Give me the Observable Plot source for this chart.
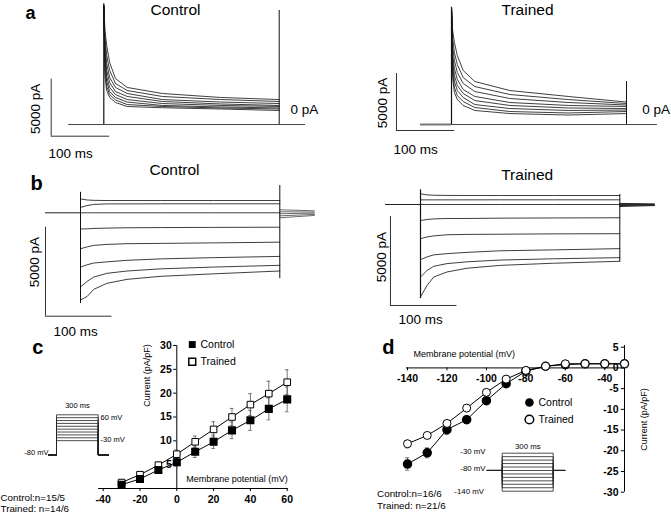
<!DOCTYPE html>
<html><head><meta charset="utf-8">
<script src="https://cdn.jsdelivr.net/npm/d3@7"></script>
<script src="https://cdn.jsdelivr.net/npm/@observablehq/plot@0.6"></script>
<style>
html,body{margin:0;padding:0;background:#fff;}
#root{position:relative;width:671px;height:514px;overflow:hidden;background:#fff;}
#root svg{position:absolute;left:0;top:0;}
</style></head><body><div id="root"></div>
<script>
// ================= DATA =================
// Panel a: outward current traces (pA) sampled at these times (ms) during a 300 ms step
const aTimes = [0, 2, 5, 10, 20, 40, 100, 200, 300];
const aControl = [
  [10400, 8240, 6930, 5440, 4030, 3250, 2720, 2370, 2190],
  [10400, 7540, 6050, 4740, 3600, 2980, 2460, 2190, 2020],
  [10400, 6930, 5350, 4120, 3250, 2720, 2190, 1970, 1840],
  [10400, 6310, 4740, 3680, 2890, 2460, 2020, 1800, 1670],
  [10400, 5790, 4210, 3250, 2630, 2190, 1840, 1670, 1580],
  [10400, 5260, 3770, 2890, 2370, 1970, 1670, 1540, 1450],
  [10400, 4740, 3330, 2630, 2150, 1750, 1580, 1450, 1360],
  [10400, 4210, 2980, 2370, 1930, 1580, 1470, 1360, 1230]
];
const aTrained = [
  [10260, 8240, 7190, 6050, 4740, 3770, 2980, 2460, 1970],
  [10260, 7540, 6310, 5260, 4120, 3330, 2630, 2190, 1840],
  [10260, 6840, 5610, 4560, 3600, 2890, 2280, 1930, 1710],
  [10260, 6140, 4910, 3950, 3070, 2460, 1930, 1670, 1580],
  [10260, 5610, 4300, 3420, 2720, 2100, 1670, 1450, 1400],
  [10260, 5090, 3770, 2980, 2370, 1750, 1400, 1230, 1270],
  [10260, 4560, 3240, 2540, 2020, 1490, 1140, 1010, 1140],
  [10260, 4030, 2810, 2190, 1670, 1230, 960, 830, 960]
];
const aControlOnset = 10600, aControlOffset = 10000;
const aTrainedOnset = 10290, aTrainedOffset = 3770;

// Panel b: inward current traces (pA)
const bTimes = [0, 10, 20, 40, 70, 120, 200, 300];
const bControl = [
  [780, 720, 700, 690, 690, 690, 690, 690],
  [300, 410, 470, 500, 500, 505, 505, 505],
  [0, 0, 0, 0, 0, 0, 0, 0],
  [-910, -900, -880, -860, -840, -830, -820, -810],
  [-2020, -1915, -1830, -1775, -1735, -1720, -1690, -1650],
  [-3050, -2920, -2820, -2755, -2670, -2590, -2520, -2450],
  [-4170, -3850, -3610, -3400, -3270, -3150, -3050, -2950],
  [-4900, -4700, -4300, -3960, -3740, -3570, -3430, -3270]
];
const bTrained = [
  [600, 540, 520, 510, 505, 505, 505, 505],
  [260, 260, 260, 260, 260, 263, 263, 263],
  [0, 0, 0, 0, 0, 0, 0, 0],
  [-900, -840, -810, -785, -785, -767, -756, -745],
  [-1920, -1820, -1765, -1700, -1680, -1670, -1650, -1640],
  [-3100, -2940, -2830, -2760, -2690, -2600, -2550, -2480],
  [-4070, -3700, -3470, -3320, -3220, -3120, -3050, -2985],
  [-5190, -4540, -4070, -3790, -3580, -3420, -3300, -3190]
];
const bControlOnset = [1150, -5100], bControlOffset = [1530, -3700];
const bTrainedOnset = [823, -5282], bTrainedOffset = [560, -3231];
const bTailTimes = [300, 352];
const bControlTailStart = [170, 60, -50, -170, -280];
const bControlTailEnd = [110, 40, -20, -90, -150];
const bTrainedTailStart = [60, 20, -20, -60, -110];
const bTrainedTailEnd = [30, 10, -10, -30, -60];

// Panel c: I-V relation (pA/pF)
const cVoltages = [-30, -20, -10, 0, 10, 20, 30, 40, 50, 60];
const cControl = [0.8, 2.0, 3.9, 5.5, 7.7, 9.8, 12.2, 14.3, 16.7, 18.7];
const cTrained = [1.25, 2.9, 4.9, 7.2, 9.8, 12.4, 15.0, 17.6, 19.9, 22.3];
const cControlErr = [0.3, 0.4, 0.6, 0.8, 1.2, 1.4, 1.75, 2.1, 2.3, 2.6];
const cTrainedErr = [0.3, 0.4, 0.6, 0.9, 1.2, 1.6, 1.8, 2.3, 2.6, 2.6];
const cXTicks = [-40, -20, 0, 20, 40, 60];
const cYTicks = [5, 10, 15, 20, 25, 30];
const cStepLevels = [-30, -20, -10, 0, 10, 20, 30, 40, 50, 60];

// Panel d: I-V relation (pA/pF)
const dVoltages = [-140, -130, -120, -110, -100, -90, -80, -70, -60, -50, -40, -30];
const dControl = [-23.2, -20.5, -14.9, -12.5, -7.9, -3.8, -0.8, 0.4, 0.8, 1.0, 1.0, 1.0];
const dTrained = [-18.3, -16.3, -13.4, -9.7, -5.9, -2.7, -0.6, 0.4, 1.0, 1.0, 1.0, 1.0];
const dControlErr = [1.5, 1.2, 1.2, 0.8, 0.4, 0.3, 0.2, 0.1, 0.1, 0.1, 0.1, 0.1];
const dTrainedErr = [1.0, 0.5, 0.3, 0.3, 0.3, 0.2, 0.2, 0.1, 0.1, 0.1, 0.1, 0.1];
const dXTicks = [-140, -120, -100, -80, -60, -40];
const dYTicks = [5, 0, -5, -10, -15, -20, -25, -30];
const dStepLevels = [-140, -130, -120, -110, -100, -90, -80, -70, -60, -50, -40, -30];

const holding = -80, pulse = 300;
const barPA = 5000, barMs = 100;

// ================= DRAWING =================
const FONT = "Arial, 'Liberation Sans', Helvetica, sans-serif";
const root = document.getElementById("root");
const INK = "#111";

function panel(xDomain, xRange, yDomain, yRange, marks) {
  const svg = Plot.plot({
    width: 671, height: 514, margin: 0,
    style: {background: "transparent", fontFamily: FONT, overflow: "visible", color: INK},
    x: {type: "linear", domain: xDomain, range: xRange, axis: null},
    y: {type: "linear", domain: yDomain, range: yRange, axis: null},
    marks
  });
  root.appendChild(svg);
}
function T(text, x, y, o = {}) {
  return Plot.text([{text, x, y}], {x: "x", y: "y", text: "text", fill: "#000", fontSize: 10, ...o});
}
function traceRows(times, traces) {
  return traces.flatMap((tr, k) => tr.map((v, i) => ({k, t: times[i], v})));
}
function tailRows(times, s, e) {
  return s.flatMap((v, k) => [{k, t: times[0], v}, {k, t: times[1], v: e[k]}]);
}
function stepRows(levels, hold, pre, post) {
  return levels.flatMap((V, k) => [
    {k, t: pre, V: hold}, {k, t: 0, V: hold}, {k, t: 0, V}, {k, t: pulse, V},
    {k, t: pulse, V: hold}, {k, t: post, V: hold}
  ]);
}
const traceStyle = {x: "t", y: "v", z: "k", stroke: "#1c1c1c", strokeWidth: 0.85};

// ---- Panel a, Control ----
panel([0, 300], [103.3, 278.7], [0, 5000], [124, 67], [
  Plot.ruleY([0], {x1: -60, x2: 345, stroke: "#444", strokeWidth: 1}),
  Plot.line(traceRows(aTimes, aControl), traceStyle),
  Plot.ruleX([0], {y1: 0, y2: aControlOnset, stroke: "#111", strokeWidth: 1.2}),
  Plot.ruleX([pulse], {y1: 0, y2: aControlOffset, stroke: "#111", strokeWidth: 1}),
  Plot.ruleX([-90], {y1: -1026, y2: -1026 + barPA, stroke: "#333"}),
  Plot.ruleY([-1026], {x1: -90, x2: -90 + barMs, stroke: "#333"}),
  T("a", -134, 9800, {fontSize: 18, fontWeight: "bold", textAnchor: "start"}),
  T("Control", 122.6, 10084, {fontSize: 15.5}),
  T("0 pA", 319.3, 1316, {fontSize: 13.5, textAnchor: "start"}),
  T("5000 pA", -116.8, 1377, {fontSize: 13.5, rotate: -90}),
  T("100 ms", -94.6, -2518, {fontSize: 13.5, textAnchor: "start"})
]);

// ---- Panel a, Trained ----
panel([0, 300], [451, 626], [0, 5000], [124, 67], [
  Plot.ruleY([0], {x1: -53, x2: 353, stroke: "#444", strokeWidth: 1}),
  Plot.ruleY([0], {x1: -53, x2: 0, stroke: "#777", strokeWidth: 2}),
  Plot.line(traceRows(aTimes, aTrained), traceStyle),
  Plot.ruleX([0], {y1: 0, y2: aTrainedOnset, stroke: "#111", strokeWidth: 1.2}),
  Plot.ruleX([pulse], {y1: 0, y2: aTrainedOffset, stroke: "#111", strokeWidth: 1}),
  Plot.ruleX([-94.3], {y1: -526, y2: -526 + barPA, stroke: "#333"}),
  Plot.ruleY([-526], {x1: -94.3, x2: -94.3 + barMs, stroke: "#333"}),
  T("Trained", 130.3, 10084, {fontSize: 15.5}),
  T("0 pA", 326.9, 1316, {fontSize: 13.5, textAnchor: "start"}),
  T("5000 pA", -118.8, 1886, {fontSize: 13.5, rotate: -90}),
  T("100 ms", -99.4, -2167, {fontSize: 13.5, textAnchor: "start"})
]);

// ---- Panel b, Control ----
panel([0, 300], [80, 279.3], [0, -5000], [212.3, 301.3], [
  Plot.ruleY([0], {x1: -52.7, x2: 0, stroke: "#222", strokeWidth: 1}),
  Plot.line(tailRows(bTailTimes, bControlTailStart, bControlTailEnd), {...traceStyle, stroke: "#444", strokeWidth: 0.8}),
  Plot.line(traceRows(bTimes, bControl), traceStyle),
  Plot.ruleX([0], {y1: bControlOnset[0], y2: bControlOnset[1], stroke: "#111", strokeWidth: 1}),
  Plot.ruleX([pulse], {y1: bControlOffset[0], y2: bControlOffset[1], stroke: "#111", strokeWidth: 1}),
  Plot.ruleX([-52.7], {y1: -809, y2: -809 - barPA, stroke: "#333"}),
  Plot.ruleY([-809 - barPA], {x1: -52.7, x2: -52.7 + barMs, stroke: "#333"}),
  T("b", -75.3, 1651, {fontSize: 20, fontWeight: "bold", textAnchor: "start"}),
  T("Control", 141.5, 2416, {fontSize: 15.5}),
  T("5000 pA", -69.2, -2775, {fontSize: 13.5, rotate: -90}),
  T("100 ms", -40.6, -6652, {fontSize: 13.5, textAnchor: "start"})
]);

// ---- Panel b, Trained ----
panel([0, 300], [420, 619.3], [0, -5000], [204, 293], [
  Plot.ruleY([0], {x1: -52.7, x2: 0, stroke: "#222", strokeWidth: 1.2}),
  Plot.line(tailRows(bTailTimes, bTrainedTailStart, bTrainedTailEnd), {...traceStyle, stroke: "#222", strokeWidth: 1}),
  Plot.line(traceRows(bTimes, bTrained), traceStyle),
  Plot.ruleX([0], {y1: bTrainedOnset[0], y2: bTrainedOnset[1], stroke: "#111", strokeWidth: 1.2}),
  Plot.ruleX([pulse], {y1: bTrainedOffset[0], y2: bTrainedOffset[1], stroke: "#111", strokeWidth: 1}),
  Plot.ruleX([-45.2], {y1: -674, y2: -674 - barPA, stroke: "#333"}),
  Plot.ruleY([-674 - barPA], {x1: -45.2, x2: -45.2 + barMs, stroke: "#333"}),
  T("Trained", 160.6, 1669, {fontSize: 15.5}),
  T("5000 pA", -57.7, -2961, {fontSize: 13.5, rotate: -90}),
  T("100 ms", -33.1, -6444, {fontSize: 13.5, textAnchor: "start"})
]);

// ---- Panel c ----
const cRows = cVoltages.map((v, i) => ({v, c: cControl[i], t: cTrained[i], ce: cControlErr[i], te: cTrainedErr[i]}));
const errStyle = {stroke: "#555", strokeWidth: 0.8};
panel([-40, 60], [102.7, 286.7], [0, 30], [488, 345], [
  Plot.ruleY([0], {x1: -42.5, x2: 60.5, stroke: "#000"}),
  Plot.ruleX(cXTicks, {x: d => d, y1: 0, y2: -0.65, stroke: "#000"}),
  Plot.ruleX([0], {y1: 0, y2: 30, stroke: "#000"}),
  Plot.ruleY(cYTicks, {y: d => d, x1: -1.7, x2: 0, stroke: "#000"}),
  Plot.text(cXTicks, {x: d => d, y: 0, text: d => String(d), dy: 11, fontSize: 10.5, fontWeight: "bold", fill: "#000"}),
  Plot.text(cYTicks, {x: 0, y: d => d, text: d => String(d), dx: -5, textAnchor: "end", fontSize: 10.5, fontWeight: "bold", fill: "#000"}),
  Plot.ruleX(cRows, {x: "v", y1: d => d.t - d.te, y2: d => d.t + d.te, ...errStyle}),
  Plot.ruleY(cRows, {y: d => d.t + d.te, x1: d => d.v - 1, x2: d => d.v + 1, ...errStyle}),
  Plot.ruleY(cRows, {y: d => d.t - d.te, x1: d => d.v - 1, x2: d => d.v + 1, ...errStyle}),
  Plot.ruleX(cRows, {x: "v", y1: d => d.c - d.ce, y2: d => d.c + d.ce, ...errStyle}),
  Plot.ruleY(cRows, {y: d => d.c + d.ce, x1: d => d.v - 1, x2: d => d.v + 1, ...errStyle}),
  Plot.ruleY(cRows, {y: d => d.c - d.ce, x1: d => d.v - 1, x2: d => d.v + 1, ...errStyle}),
  Plot.line(cRows, {x: "v", y: "t", stroke: "#000", strokeWidth: 1}),
  Plot.line(cRows, {x: "v", y: "c", stroke: "#000", strokeWidth: 1}),
  Plot.dot(cRows, {x: "v", y: "t", symbol: "square", r: 3.7, fill: "#fff", stroke: "#000", strokeWidth: 1}),
  Plot.dot(cRows, {x: "v", y: "c", symbol: "square", r: 3.7, fill: "#000", stroke: "#000"}),
  Plot.dot([{x: 8.4, y: 30.2}], {x: "x", y: "y", symbol: "square", r: 3.9, fill: "#000"}),
  Plot.dot([{x: 8.4, y: 26.6}], {x: "x", y: "y", symbol: "square", r: 3.9, fill: "#fff", stroke: "#000"}),
  T("Control", 12.9, 30.2, {fontSize: 10.5, textAnchor: "start"}),
  T("Trained", 12.9, 26.6, {fontSize: 10.5, textAnchor: "start"}),
  T("c", -78.6, 29.6, {fontSize: 20, fontWeight: "bold", textAnchor: "start"}),
  T("Current (pA/pF)", -16.1, 23.7, {fontSize: 9, rotate: -90}),
  T("Membrane potential (mV)", 5.1, 1.87, {fontSize: 9, textAnchor: "start"}),
  T("Control:n=15/5", -95.8, -1.87, {fontSize: 9.8, textAnchor: "start"}),
  T("Trained: n=14/6", -95.8, -4.32, {fontSize: 9.8, textAnchor: "start"})
]);

// ---- Panel c protocol ----
panel([0, 300], [56, 97.7], [-80, 60], [454.5, 414.3], [
  Plot.line(stepRows(cStepLevels, holding, -57, 374), {x: "t", y: "V", z: "k", stroke: "#222", strokeWidth: 0.8}),
  T("300 ms", 151, 92.8, {fontSize: 7.5}),
  T("60 mV", 316.5, 50, {fontSize: 7.5, textAnchor: "start"}),
  T("-30 mV", 316.5, -27, {fontSize: 7.5, textAnchor: "start"}),
  T("-80 mV", -57.6, -70.2, {fontSize: 7.5, textAnchor: "end"})
]);

// ---- Panel d ----
const dRows = dVoltages.map((v, i) => ({v, c: dControl[i], t: dTrained[i], ce: dControlErr[i], te: dTrainedErr[i]}));
panel([-140, -30], [407, 624], [-30, 5], [491.7, 346.7], [
  Plot.ruleY([0], {x1: -140.5, x2: -30, stroke: "#000"}),
  Plot.ruleX(dXTicks, {x: d => d, y1: 0, y2: -0.7, stroke: "#000"}),
  Plot.ruleX([-30], {y1: -30, y2: 5.4, stroke: "#000"}),
  Plot.ruleY(dYTicks, {y: d => d, x1: -31.6, x2: -30, stroke: "#000"}),
  Plot.text(dXTicks, {x: d => d, y: 0, text: d => String(d), dy: 10.5, fontSize: 10.5, fontWeight: "bold", fill: "#000"}),
  Plot.text(dYTicks, {x: -30, y: d => d, text: d => String(d), dx: -6, textAnchor: "end", fontSize: 10.5, fontWeight: "bold", fill: "#000"}),
  Plot.ruleX(dRows, {x: "v", y1: d => d.c - d.ce, y2: d => d.c + d.ce, ...errStyle}),
  Plot.ruleY(dRows, {y: d => d.c - d.ce, x1: d => d.v - 1, x2: d => d.v + 1, ...errStyle}),
  Plot.ruleY(dRows, {y: d => d.c + d.ce, x1: d => d.v - 1, x2: d => d.v + 1, ...errStyle}),
  Plot.ruleX(dRows, {x: "v", y1: d => d.t - d.te, y2: d => d.t + d.te, ...errStyle}),
  Plot.ruleY(dRows, {y: d => d.t - d.te, x1: d => d.v - 1, x2: d => d.v + 1, ...errStyle}),
  Plot.line(dRows, {x: "v", y: "c", stroke: "#000", strokeWidth: 1}),
  Plot.line(dRows, {x: "v", y: "t", stroke: "#000", strokeWidth: 1}),
  Plot.dot(dRows, {x: "v", y: "c", r: 4, fill: "#000", stroke: "#000"}),
  Plot.dot(dRows, {x: "v", y: "t", r: 4, fill: "#fff", stroke: "#000", strokeWidth: 1}),
  Plot.dot([{x: -78.2, y: -8.35}], {x: "x", y: "y", r: 4.3, fill: "#000"}),
  Plot.dot([{x: -78.2, y: -12.45}], {x: "x", y: "y", r: 4.3, fill: "#fff", stroke: "#000"}),
  T("Control", -73.6, -8.35, {fontSize: 10.5, textAnchor: "start"}),
  T("Trained", -73.6, -12.45, {fontSize: 10.5, textAnchor: "start"}),
  T("d", -152.8, 4.95, {fontSize: 20, fontWeight: "bold", textAnchor: "start"}),
  T("Membrane potential (mV)", -137, 3.45, {fontSize: 9, textAnchor: "start"}),
  T("Current (pA/pF)", -20.1, -12.45, {fontSize: 9, rotate: -90}),
  T("Control:n=16/6", -155.4, -30.46, {fontSize: 9.8, textAnchor: "start"}),
  T("Trained: n=21/6", -155.4, -33.26, {fontSize: 9.8, textAnchor: "start"})
]);

// ---- Panel d protocol ----
panel([0, 300], [501.7, 552.7], [-140, -30], [490.7, 452.7], [
  Plot.line(stepRows(dStepLevels, holding, -88, 368), {x: "t", y: "V", z: "k", stroke: "#222", strokeWidth: 0.8}),
  T("300 ms", 150.6, -10.6, {fontSize: 7.8}),
  T("-30 mV", -98.2, -25.1, {fontSize: 7.8, textAnchor: "end"}),
  T("-80 mV", -98.2, -75.2, {fontSize: 7.8, textAnchor: "end"}),
  T("-140 mV", -108, -140, {fontSize: 7.8, textAnchor: "end"})
]);
</script></body></html>
